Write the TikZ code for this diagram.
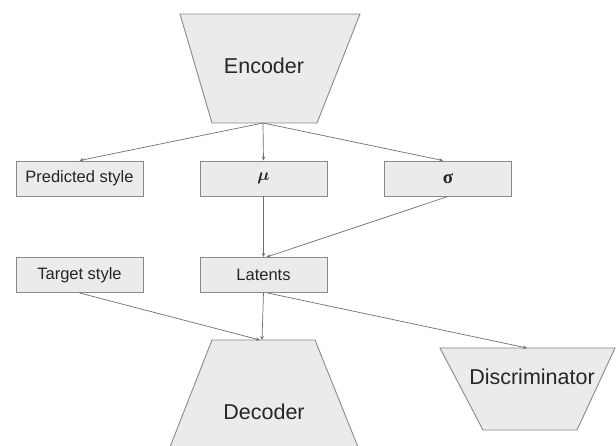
\documentclass[tikz,border=0pt]{standalone}
\usepackage{bm}
\usepackage{fontspec}
\setmainfont{Liberation Sans}
\newfontfamily\serifgr{Liberation Serif}
\usetikzlibrary{arrows.meta}
\definecolor{boxfill}{HTML}{EBEBEB}
\definecolor{boxline}{HTML}{8A8A8A}
\definecolor{arrowc}{HTML}{6E6E6E}
\begin{document}
\begin{tikzpicture}[x=1pt,y=-1pt,
  trapshape/.style={draw=boxline,fill=boxfill,line width=0.9pt},
  smallbox/.style={draw=boxline,fill=boxfill,line width=0.9pt,minimum width=127pt,minimum height=35pt,inner sep=0pt,font=\fontsize{16.5}{18}\selectfont,text=black!85},
  bigtext/.style={font=\fontsize{21.5}{24}\selectfont,text=black!85},
  conn/.style={draw=arrowc,line width=0.7pt,-{Stealth[length=4pt,width=3.5pt]}}]
\useasboundingbox (0,0) rectangle (616,446);
% Encoder
\draw[trapshape] (180,14) -- (360,14) -- (317,123) -- (212,123) -- cycle;
\node[bigtext] (enc) at (264,66) {Encoder};
\coordinate (encB) at (263,123);
% Decoder
\draw[trapshape] (212,340) -- (315,340) -- (358,447) -- (170,447) -- cycle;
\node[bigtext] (dec) at (264,412) {Decoder};
\coordinate (decT) at (262,340);
% Discriminator
\draw[trapshape] (440,348) -- (615,348) -- (577,430) -- (483,430) -- cycle;
\node[bigtext] (disc) at (532,377) {Discriminator};
\coordinate (discT) at (527,348);
% boxes
\node[smallbox] (pred) at (79.5,178.5) {Predicted style};
\node[smallbox] (mu) at (263.5,178.5) {\fontsize{18}{20}\selectfont$\bm{\mu}$};
\node[smallbox] (sigma) at (448,178.5) {\fontsize{19}{20}\selectfont\serifgr\bfseries σ};
\node[smallbox] (tgt) at (79.5,275) {Target style};
\node[smallbox] (lat) at (263.5,275) {Latents};
% connectors
\draw[conn] (encB) -- (pred.north);
\draw[conn] (encB) -- (mu.north);
\draw[conn] (encB) -- ([xshift=-5pt]sigma.north);
\draw[conn] (mu.south) -- (lat.north);
\draw[conn] (sigma.south) -- ([xshift=3pt]lat.north);
\draw[conn] (tgt.south) -- ([xshift=-2pt]decT);
\draw[conn] (lat.south) -- (decT);
\draw[conn] ([xshift=4pt]lat.south) -- (discT);
\end{tikzpicture}
\end{document}
